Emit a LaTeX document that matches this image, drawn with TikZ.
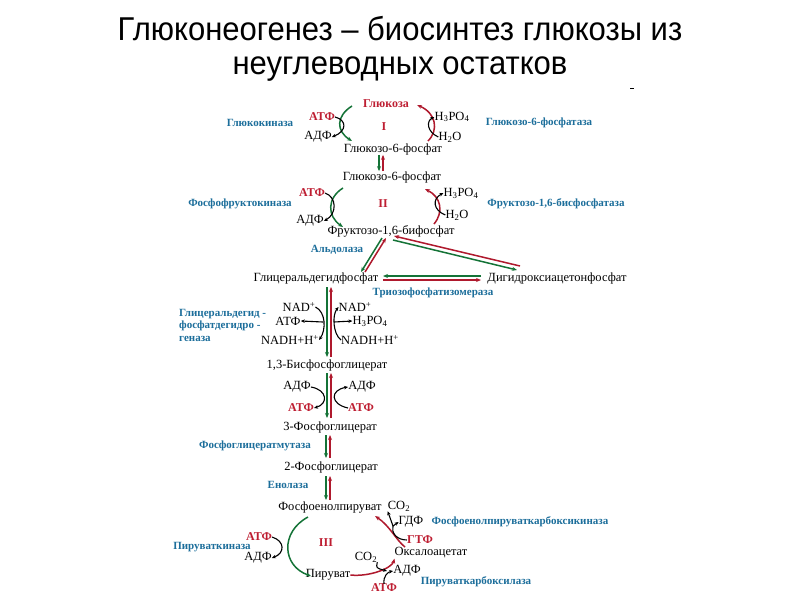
\documentclass[tikz,border=0pt]{standalone}
\usepackage{fontspec}
\setmainfont{Liberation Serif}
\newfontfamily\titlefont[FakeStretch=0.94]{Liberation Sans}
\usetikzlibrary{arrows.meta}
\definecolor{enzblue}{RGB}{28,110,155}
\definecolor{redtxt}{RGB}{190,30,50}
\definecolor{greenline}{RGB}{20,115,55}
\definecolor{redline}{RGB}{175,25,45}
\begin{document}
\begin{tikzpicture}[x=1pt,y=-1pt,
  met/.style={inner sep=0pt, font=\fontsize{12.5}{14}\selectfont},
  enz/.style={inner sep=0pt, font=\fontsize{11}{12}\selectfont\bfseries, text=enzblue},
  redc/.style={inner sep=0pt, font=\fontsize{12}{14}\selectfont\bfseries, text=redtxt},
  ttl/.style={inner sep=0pt, anchor=base, font=\titlefont\fontsize{33}{38}\selectfont},
  garr/.style={draw=greenline, line width=1.5pt, -{Stealth[length=5pt,width=4pt]}},
  rarr/.style={draw=redline, line width=1.5pt, -{Stealth[length=5pt,width=4pt]}},
  sarr/.style={draw=black, line width=1.1pt, -{Stealth[length=4pt,width=3.5pt]}},
  sline/.style={draw=black, line width=1.1pt}
]
\useasboundingbox (0,0) rectangle (800,600);
\fill[white] (0,0) rectangle (800,600);

% title
\node[ttl] (t1) at (400,40) {Глюконеогенез – биосинтез глюкозы из};
\node[ttl] (t2) at (400,74) {неуглеводных остатков};
\coordinate (dashA) at (630,88); \coordinate (dashB) at (634,88);
\draw[line width=0.8pt] (dashA) -- (dashB);

% ---------- Stage I ----------
\node[redc] (glc) at (386,104) {Глюкоза};
\node[redc] (rI) at (384,127) {I};
\node[redc] (atp1) at (322,117) {АТФ};
\node[met] (adp1) at (318,137) {АДФ};
\node[enz] (gk) at (260,123) {Глюкокиназа};
\node[met] (h3a) at (452,117) {H\textsubscript{3}PO\textsubscript{4}};
\node[met] (h2a) at (450,137) {H\textsubscript{2}O};
\node[enz] (g6pase) at (539,123) {Глюкозо-6-фосфатаза};
\node[met] (g6pa) at (393,149) {Глюкозо-6-фосфат};

\coordinate (gIa) at (352,106); \coordinate (gIb) at (352,141);
\draw[garr] (gIa) .. controls (336,116) and (336,131) .. (gIb);
\draw[sarr] (atp1.east) .. controls (347,120) and (347,131) .. (adp1.east);
\coordinate (rIa) at (428,141); \coordinate (rIb) at (417,105);
\draw[rarr] (rIa) .. controls (439,130) and (436,113) .. (rIb);
\draw[sarr] (h2a.west) .. controls (427,132) and (426,121) .. (h3a.west);

% G6P -> G6P
\node[met] (g6pb) at (392,177) {Глюкозо-6-фосфат};
\draw[garr] ([xshift=-14pt]g6pa.south) -- ([xshift=-13pt]g6pb.north);
\draw[rarr] ([xshift=-9pt]g6pb.north) -- ([xshift=-10pt]g6pa.south);

% ---------- Stage II ----------
\node[redc] (atp2) at (312,193) {АТФ};
\node[met] (adp2) at (310,221) {АДФ};
\node[enz] (pfk) at (240,204) {Фосфофруктокиназа};
\node[redc] (rII) at (383,204) {II};
\node[met] (h3b) at (461,193) {H\textsubscript{3}PO\textsubscript{4}};
\node[met] (h2b) at (457,215) {H\textsubscript{2}O};
\node[enz] (fbpase) at (556,204) {Фруктозо-1,6-бисфосфатаза};
\node[met] (fbp) at (391,231) {Фруктозо-1,6-бифосфат};

\coordinate (gIIa) at (343,188); \coordinate (gIIb) at (343,227);
\draw[garr] (gIIa) .. controls (327,198) and (327,216) .. (gIIb);
\draw[sarr] (atp2.east) .. controls (337,197) and (337,214) .. (adp2.east);
\coordinate (rIIa) at (434,224); \coordinate (rIIb) at (425,189);
\draw[rarr] (rIIa) .. controls (444,212) and (441,197) .. (rIIb);
\draw[sarr] (h2b.west) .. controls (433,210) and (432,199) .. (h3b.west);

% ---------- aldolase / TPI ----------
\node[met] (gap) at (316,278) {Глицеральдегидфосфат};
\node[met] (dhap) at (557,278) {Дигидроксиацетонфосфат};
\node[enz] (ald) at (337,250) {Альдолаза};
\node[enz] (tpi) at (433,293) {Триозофосфатизомераза};

\coordinate (alG1) at (382,238); \coordinate (alG2) at (361,272);
\coordinate (alR1) at (365,272); \coordinate (alR2) at (386,238);
\draw[garr] (alG1) -- (alG2);
\draw[rarr] (alR1) -- (alR2);
\coordinate (lgR1) at (520,266); \coordinate (lgR2) at (394,236);
\coordinate (lgG1) at (393,240); \coordinate (lgG2) at (517,270);
\draw[rarr] (lgR1) -- (lgR2);
\draw[garr] (lgG1) -- (lgG2);
\coordinate (tpG1) at (481,276); \coordinate (tpG2) at (383,276);
\draw[garr] (tpG1) -- (tpG2);
\coordinate (tpR1) at (383,280); \coordinate (tpR2) at (481,280);
\draw[rarr] (tpR1) -- (tpR2);

% ---------- GAPDH ----------
\node[enz, align=left, anchor=west, font=\fontsize{11}{12.5}\selectfont\bfseries] (gapdh) at (179,325)
  {Глицеральдегид -\\фосфатдегидро -\\геназа};
\node[met] (nadl) at (299,307) {NAD\textsuperscript{+}};
\node[met] (nadr) at (355,307) {NAD\textsuperscript{+}};
\node[met] (atpL) at (288,321) {АТФ};
\node[met] (h3c) at (370,321) {H\textsubscript{3}PO\textsubscript{4}};
\node[met] (nadhl) at (290,340) {NADH+H\textsuperscript{+}};
\node[met] (nadhr) at (370,340) {NADH+H\textsuperscript{+}};
\node[met] (bpg) at (327,365) {1,3-Бисфосфоглицерат};

\coordinate (v1g1) at (327,287); \coordinate (v1g2) at (327,357);
\coordinate (v1r1) at (331,357); \coordinate (v1r2) at (331,287);
\draw[garr] (v1g1) -- (v1g2);
\draw[rarr] (v1r1) -- (v1r2);
\draw[sarr] (nadl.east) .. controls (326,312) and (326,330) .. (nadhl.east);
\coordinate (gpL) at (323,322);
\draw[sarr] (gpL) -- (atpL.east);
\draw[sarr] (nadhr.west) .. controls (333,334) and (332,315) .. (nadr.west);
\coordinate (gpR) at (334,322);
\draw[sarr] (gpR) -- (h3c.west);

% ---------- PGK ----------
\node[met] (adpL) at (297,387) {АДФ};
\node[redc] (atpLr) at (301,408) {АТФ};
\node[met] (adpR) at (362,387) {АДФ};
\node[redc] (atpRr) at (361,408) {АТФ};
\node[met] (pg3) at (330,427) {3-Фосфоглицерат};

\coordinate (v2g1) at (327,373); \coordinate (v2g2) at (327,418);
\coordinate (v2r1) at (331,418); \coordinate (v2r2) at (331,373);
\draw[garr] (v2g1) -- (v2g2);
\draw[rarr] (v2r1) -- (v2r2);
\draw[sarr] (adpL.east) .. controls (328,390) and (328,404) .. (atpLr.east);
\draw[sarr] (atpRr.west) .. controls (330,404) and (330,390) .. (adpR.west);

% ---------- PGM / enolase ----------
\node[enz] (pgm) at (255,446) {Фосфоглицератмутаза};
\node[met] (pg2) at (331,467) {2-Фосфоглицерат};
\node[enz] (eno) at (288,485) {Енолаза};
\node[met] (pep) at (330,508) {Фосфоенолпируват};

\coordinate (v3g1) at (326,435); \coordinate (v3g2) at (326,458);
\coordinate (v3r1) at (330,458); \coordinate (v3r2) at (330,435);
\draw[garr] (v3g1) -- (v3g2);
\draw[rarr] (v3r1) -- (v3r2);
\coordinate (v4g1) at (326,476); \coordinate (v4g2) at (326,500);
\coordinate (v4r1) at (330,500); \coordinate (v4r2) at (330,476);
\draw[garr] (v4g1) -- (v4g2);
\draw[rarr] (v4r1) -- (v4r2);

% ---------- Stage III ----------
\node[met] (co2a) at (399,506) {CO\textsubscript{2}};
\node[met] (gdp) at (411,522) {ГДФ};
\node[enz] (pepck) at (520,522) {Фосфоенолпируваткарбоксикиназа};
\node[redc] (gtp) at (420,540) {ГТФ};
\node[met] (oaa) at (431,553) {Оксалоацетат};
\node[redc] (rIII) at (326,543) {III};
\node[redc] (atp3) at (259,537) {АТФ};
\node[met] (adp3) at (258,558) {АДФ};
\node[enz] (pk) at (212,547) {Пируваткиназа};
\node[met] (pyr) at (328,575) {Пируват};
\node[met] (co2b) at (366,557) {CO\textsubscript{2}};
\node[met] (adp4) at (407,571) {АДФ};
\node[redc] (atp4) at (384,588) {АТФ};
\node[enz] (pc) at (476,582) {Пируваткарбоксилаза};

\coordinate (gIIIa) at (308,517); \coordinate (gIIIb) at (311,576);
\draw[garr] (gIIIa) .. controls (280,532) and (282,566) .. (gIIIb);
\draw[sarr] (atp3.east) .. controls (285,541) and (285,553) .. (adp3.east);

\coordinate (rIIIa) at (405,547); \coordinate (rIIIb) at (375,516);
\draw[rarr] (rIIIa) .. controls (396,540) and (390,526) .. (rIIIb);
\draw[sline] (gtp.west) .. controls (396,540) and (391,532) .. (393,526);
\coordinate (cbr) at (393,526);
\draw[sarr] (cbr) -- (gdp.west);
\draw[sarr] (cbr) -- (co2a.south west);

\draw[rarr] (pyr.east) .. controls (370,577) and (392,568) .. (oaa.south west);
\draw[sarr] (co2b.south east) .. controls (376,568) .. (387,571);
\draw[sarr] (atp4.north) .. controls (383,576) and (388,572) .. (adp4.west);
\end{tikzpicture}
\end{document}
